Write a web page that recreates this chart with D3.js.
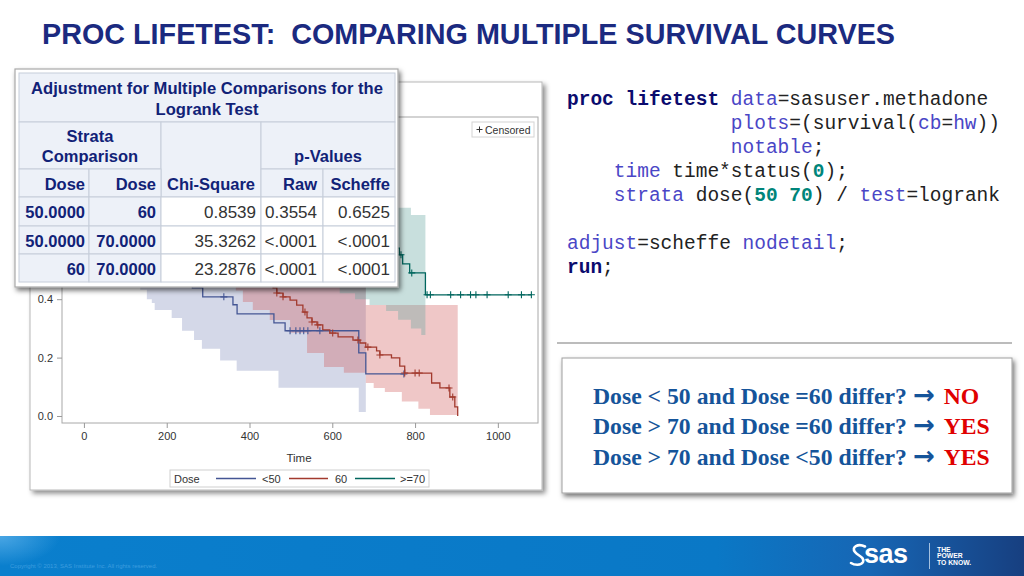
<!DOCTYPE html>
<html><head><meta charset="utf-8">
<script src="https://cdn.jsdelivr.net/npm/d3@7/dist/d3.min.js"></script>
<style>html,body{margin:0;padding:0;background:#fff;overflow:hidden}</style>
</head><body>
<svg id="s" width="1024" height="576" xmlns="http://www.w3.org/2000/svg"></svg>
<script>
// ---------------- data ----------------
const slideTitle = "PROC LIFETEST:  COMPARING MULTIPLE SURVIVAL CURVES";
const xTicks = [0, 200, 400, 600, 800, 1000];
const yTicks = [0.0, 0.2, 0.4];          // the upper ticks are covered by the table in the slide
const xLabel = "Time";
const legendTitle = "Dose";
const strataLabels = ["<50", "60", ">=70"];

// step survival estimates [time, survival]
const survLt50 = [[0,1],[14,0.97],[33,0.94],[55,0.91],[79,0.88],[101,0.84],[124,0.80],[146,0.76],[166,0.72],[184,0.68],[201,0.64],[216,0.60],[229,0.56],[241,0.52],[252,0.48],[262,0.439],[287,0.408],[360,0.381],[370,0.35],[459,0.319],[486,0.292],[664,0.216],[681,0.144]];
const surv60 = [[0,1],[21,0.98],[44,0.96],[68,0.94],[92,0.92],[115,0.90],[140,0.88],[165,0.86],[190,0.84],[212,0.81],[236,0.78],[260,0.75],[284,0.72],[307,0.69],[330,0.66],[352,0.63],[374,0.60],[395,0.57],[414,0.54],[430,0.51],[443,0.48],[452,0.46],[457,0.439],[466,0.421],[481,0.408],[498,0.397],[514,0.38],[529,0.356],[539,0.336],[551,0.322],[563,0.312],[577,0.295],[594,0.284],[614,0.271],[650,0.26],[667,0.25],[681,0.236],[707,0.223],[715,0.209],[743,0.199],[763,0.171],[775,0.147],[840,0.113],[860,0.096],[884,0.065],[896,0.031],[903,0.0]];
const surv70 = [[0,1],[28,0.985],[55,0.97],[96,0.955],[140,0.94],[185,0.925],[230,0.905],[275,0.885],[320,0.865],[365,0.845],[410,0.82],[455,0.795],[500,0.77],[545,0.745],[590,0.72],[618,0.69],[655,0.66],[690,0.63],[730,0.60],[752,0.575],[762,0.552],[770,0.521],[787,0.49],[825,0.415]];
const endTimes = [773, 903, 1081];

// censored times
const censLt50 = [72, 188, 338, 498, 512, 522, 531, 541, 570, 773];
const cens60 = [466, 481, 534, 551, 565, 601, 662, 686, 715, 775, 800, 810, 882, 891];
const cens70 = [310, 560, 766, 792, 829, 837, 886, 910, 934, 947, 974, 1025, 1057, 1081];

// Hall-Wellner bands [time, lower, upper]
const bandLt50 = [[14,0.82,1.0],[33,0.76,1.0],[55,0.71,1.0],[79,0.66,1.0],[101,0.60,1.0],[124,0.52,0.99],[136,0.432,0.98],[152,0.40,0.96],[164,0.387,0.94],[171,0.363,0.92],[212,0.336,0.88],[237,0.292,0.84],[266,0.26,0.80],[285,0.23,0.77],[329,0.19,0.72],[369,0.155,0.68],[470,0.097,0.62],[664,0.014,0.52]];
const band60 = [[21,0.88,1.0],[44,0.84,1.0],[68,0.81,1.0],[92,0.78,1.0],[115,0.75,1.0],[140,0.72,1.0],[165,0.69,1.0],[190,0.66,0.99],[212,0.63,0.97],[236,0.60,0.95],[260,0.57,0.93],[284,0.54,0.91],[307,0.51,0.88],[330,0.48,0.86],[352,0.45,0.83],[367,0.43,0.81],[384,0.39,0.78],[408,0.363,0.75],[449,0.329,0.70],[498,0.285,0.64],[539,0.216,0.59],[580,0.168,0.54],[628,0.148,0.50],[681,0.113,0.38],[700,0.096,0.38],[727,0.082,0.38],[768,0.05,0.38],[808,0.025,0.38],[836,0.003,0.38]];
const band70 = [[28,0.93,1.0],[55,0.905,1.0],[96,0.88,1.0],[140,0.855,1.0],[185,0.83,1.0],[230,0.80,0.995],[275,0.775,0.985],[320,0.745,0.975],[365,0.72,0.96],[410,0.69,0.945],[455,0.66,0.93],[500,0.63,0.91],[545,0.60,0.89],[590,0.56,0.87],[618,0.42,0.85],[655,0.40,0.83],[690,0.38,0.80],[730,0.36,0.76],[759,0.33,0.713],[790,0.30,0.688],[815,0.277,0.688]];
const bandEnds = [681, 903, 825];

// table
const tableTitle = ["Adjustment for Multiple Comparisons for the", "Logrank Test"];
const tableGroupHeads = ["Strata", "Comparison"];
const tablePHead = "p-Values";
const tableColHeads = ["Dose", "Dose", "Chi-Square", "Raw", "Scheffe"];
const tableRows = [
  ["50.0000", "60", "0.8539", "0.3554", "0.6525"],
  ["50.0000", "70.0000", "35.3262", "<.0001", "<.0001"],
  ["60", "70.0000", "23.2876", "<.0001", "<.0001"]
];

// code listing tokens [text, kind]
const codeLines = [
  [0, [["proc lifetest ","k"],["data","b"],["=sasuser.methadone","n"]]],
  [14,[["plots","b"],["=(survival(","n"],["cb","b"],["=","n"],["hw","b"],["))","n"]]],
  [14,[["notable","b"],[";","n"]]],
  [4, [["time","b"],[" time*status(","n"],["0","t"],[");","n"]]],
  [4, [["strata","b"],[" dose(","n"],["50 70","t"],[") / ","n"],["test","b"],["=logrank","n"]]],
  [0, []],
  [0, [["adjust","b"],["=scheffe ","n"],["nodetail","b"],[";","n"]]],
  [0, [["run","k"],[";","n"]]]
];

const answers = [
  ["Dose < 50 and Dose =60 differ? ", "NO"],
  ["Dose > 70 and Dose =60 differ? ", "YES"],
  ["Dose > 70 and Dose <50 differ? ", "YES"]
];
const copyright = "Copyright \u00A9 2013, SAS Institute Inc. All rights reserved.";

// ---------------- drawing ----------------
const svg = d3.select("#s");
const defs = svg.append("defs");
function shadow(id, dx, dy, sd, op) {
  const f = defs.append("filter").attr("id", id).attr("x", "-10%").attr("y", "-10%").attr("width", "125%").attr("height", "130%");
  f.append("feDropShadow").attr("dx", dx).attr("dy", dy).attr("stdDeviation", sd).attr("flood-color", "#000").attr("flood-opacity", op);
}
shadow("sh1", 3, 3, 2.5, 0.45);
shadow("sh2", 2, 3, 2.5, 0.55);

function fitWidth(sel, target) {
  const fs = parseFloat(sel.style("font-size"));
  const w = sel.node().getComputedTextLength();
  sel.style("font-size", (fs * target / w) + "px");
}

// slide title
const tt = svg.append("text").attr("x", 42).attr("y", 44).text(slideTitle)
  .style("font-family", "Liberation Sans, Arial, sans-serif").style("font-weight", "bold")
  .style("font-size", "25px").style("fill", "#1b2a80").style("white-space", "pre");
fitWidth(tt, 853);

// ---- chart frame ----
const chart = svg.append("g");
chart.append("rect").attr("x", 30).attr("y", 82).attr("width", 512).attr("height", 408)
  .attr("fill", "#fff").attr("stroke", "#b8b8b8").attr("stroke-width", 1).attr("filter", "url(#sh1)");

const x = d3.scaleLinear().domain([-53, 1097]).range([62, 538]);
const y = d3.scaleLinear().domain([-0.024, 1.024]).range([423, 117]);

defs.append("clipPath").attr("id", "plotclip").append("rect").attr("x", 62).attr("y", 117).attr("width", 476).attr("height", 306);
chart.append("rect").attr("x", 62).attr("y", 117).attr("width", 476).attr("height", 306).attr("fill", "#fff");

const colorsFill = ["#6F7EB3", "#D05B5B", "#66A5A0"];
const colorsLine = ["#445694", "#A23A2E", "#01665E"];
const fillOp = [0.3, 0.34, 0.36];
const bands = [bandLt50, band60, band70];
const survs = [survLt50, surv60, surv70];
const cens = [censLt50, cens60, cens70];

const pg = chart.append("g").attr("clip-path", "url(#plotclip)");
const area = d3.area().x(d => x(d[0])).y0(d => y(d[1])).y1(d => y(d[2])).curve(d3.curveStepAfter);
bands.forEach((b, i) => {
  const last = b[b.length - 1];
  const data = b.concat([[bandEnds[i], last[1], last[2]]]);
  pg.append("path").attr("d", area(data)).attr("fill", colorsFill[i]).attr("fill-opacity", fillOp[i]);
});
const line = d3.line().x(d => x(d[0])).y(d => y(d[1])).curve(d3.curveStepAfter);
function sAt(s, t) { let v = s[0][1]; for (const p of s) { if (p[0] <= t) v = p[1]; } return v; }
survs.forEach((s, i) => {
  const last = s[s.length - 1];
  const data = s.concat([[endTimes[i], last[1]]]);
  pg.append("path").attr("d", line(data)).attr("fill", "none").attr("stroke", colorsLine[i]).attr("stroke-width", 1.3);
});
cens.forEach((c, i) => {
  c.forEach(t => {
    const cx = x(t), cy = y(sAt(survs[i], t));
    pg.append("path").attr("d", `M${cx - 3.5},${cy}H${cx + 3.5}M${cx},${cy - 3.5}V${cy + 3.5}`)
      .attr("stroke", colorsLine[i]).attr("stroke-width", 1.1).attr("fill", "none");
  });
});

// wall border
chart.append("rect").attr("x", 62).attr("y", 117).attr("width", 476).attr("height", 306)
  .attr("fill", "none").attr("stroke", "#a8a8a8").attr("stroke-width", 1);

// axes
const axFont = "Liberation Sans, Arial, sans-serif";
const xa = chart.append("g").attr("transform", "translate(0,423)")
  .call(d3.axisBottom(x).tickValues(xTicks).tickSize(5).tickPadding(4).tickFormat(d3.format("d")));
const ya = chart.append("g").attr("transform", "translate(62,0)")
  .call(d3.axisLeft(y).tickValues(yTicks).tickSize(5).tickPadding(4).tickFormat(d3.format(".1f")));
[xa, ya].forEach(a => {
  a.select(".domain").remove();
  a.selectAll("line").attr("stroke", "#999");
  a.selectAll("text").style("font-family", axFont).style("font-size", "11px").style("fill", "#333");
});
chart.append("text").attr("x", 299).attr("y", 462).attr("text-anchor", "middle").text(xLabel)
  .style("font-family", axFont).style("font-size", "11.5px").style("fill", "#333");

// legend (bottom)
const lg = chart.append("g");
lg.append("rect").attr("x", 170).attr("y", 470).attr("width", 259).attr("height", 17).attr("fill", "#fff").attr("stroke", "#cfcfcf");
lg.append("text").attr("x", 174).attr("y", 482.5).text(legendTitle).style("font-family", axFont).style("font-size", "11px").style("fill", "#333");
const legLines = [[216, 256, 262], [289, 328, 335], [355, 395, 400]];
strataLabels.forEach((lab, i) => {
  lg.append("line").attr("x1", legLines[i][0]).attr("x2", legLines[i][1]).attr("y1", 478.5).attr("y2", 478.5)
    .attr("stroke", colorsLine[i]).attr("stroke-width", 1.3);
  lg.append("text").attr("x", legLines[i][2]).attr("y", 482.5).text(lab).style("font-family", axFont).style("font-size", "11px").style("fill", "#333");
});
// censored legend
const cl = chart.append("g");
cl.append("rect").attr("x", 472).attr("y", 122).attr("width", 62).attr("height", 15).attr("fill", "#fff").attr("stroke", "#d4d4d4");
cl.append("path").attr("d", "M476.5,129.5H482.5M479.5,126.5V132.5").attr("stroke", "#333").attr("stroke-width", 1);
cl.append("text").attr("x", 485).attr("y", 133.5).text("Censored").style("font-family", axFont).style("font-size", "10.5px").style("fill", "#333");

// ---- table ----
const tg = svg.append("g");
tg.append("rect").attr("x", 15).attr("y", 69).attr("width", 383).attr("height", 218)
  .attr("fill", "#fff").attr("stroke", "#a9a9a9").attr("stroke-width", 1.2).attr("filter", "url(#sh2)");
const colX = [19, 89, 161, 261, 323, 395];
const rowY = [73, 122, 169, 197, 226, 254, 282];
const hdrBg = "#edf1f8", gridC = "#c6cdda", hdrTxt = "#112277";
const tFont = "Liberation Sans, Arial, sans-serif";
function cell(c0, c1, r0, r1, bg) {
  tg.append("rect").attr("x", colX[c0]).attr("y", rowY[r0]).attr("width", colX[c1] - colX[c0]).attr("height", rowY[r1] - rowY[r0])
    .attr("fill", bg).attr("stroke", gridC).attr("stroke-width", 1);
}
function ttext(str, xx, yy, anchor, bold, color, fs) {
  return tg.append("text").attr("x", xx).attr("y", yy).attr("text-anchor", anchor).text(str)
    .style("font-family", tFont).style("font-size", (fs || 16) + "px").style("font-weight", bold ? "bold" : "normal").style("fill", color);
}
cell(0, 5, 0, 1, hdrBg);
cell(0, 2, 1, 2, hdrBg);
cell(2, 3, 1, 3, hdrBg);
cell(3, 5, 1, 2, hdrBg);
[0, 1, 3, 4].forEach(c => cell(c, c + 1, 2, 3, hdrBg));
tableRows.forEach((r, ri) => {
  for (let c = 0; c < 5; c++) cell(c, c + 1, 3 + ri, 4 + ri, c < 2 ? hdrBg : "#fff");
});
const t1 = ttext(tableTitle[0], 207, 94, "middle", true, hdrTxt);
fitWidth(t1, 352);
const tfs = t1.style("font-size");
ttext(tableTitle[1], 207, 115, "middle", true, hdrTxt).style("font-size", tfs);
ttext(tableGroupHeads[0], 90, 142, "middle", true, hdrTxt, 16.5);
ttext(tableGroupHeads[1], 90, 162, "middle", true, hdrTxt, 16.5);
ttext(tablePHead, 328, 162, "middle", true, hdrTxt, 16.5);
const hdrRight = [85, 156, null, 317, 390];
tableColHeads.forEach((h, c) => {
  if (c === 2) ttext(h, 211, 190, "middle", true, hdrTxt, 16.5);
  else ttext(h, hdrRight[c], 190, "end", true, hdrTxt, 16.5);
});
const dataRight = [85, 156, 256, 317, 390];
const rowBase = [218, 246.5, 274.5];
tableRows.forEach((r, ri) => {
  r.forEach((v, c) => {
    ttext(v, dataRight[c], rowBase[ri], "end", c < 2, c < 2 ? hdrTxt : "#333", c < 2 ? 16.5 : 17);
  });
});

// ---- code listing ----
const codeColors = { k: "#0b0b6e", b: "#4a46c6", n: "#222", t: "#00857a" };
const codeFs = 19.5, charW = codeFs * 0.6;
codeLines.forEach((ln, i) => {
  const [indent, toks] = ln;
  if (!toks.length) return;
  const tx = svg.append("text").attr("x", 567 + indent * charW).attr("y", 105 + i * 24)
    .style("font-family", "Liberation Mono, Courier New, monospace").style("font-size", codeFs + "px").style("white-space", "pre");
  toks.forEach(([s, k]) => {
    tx.append("tspan").text(s).style("fill", codeColors[k]).style("font-weight", (k === "k" || k === "t") ? "bold" : "normal");
  });
});

// separator line
svg.append("line").attr("x1", 557).attr("x2", 1012).attr("y1", 343).attr("y2", 343).attr("stroke", "#a6a6a6").attr("stroke-width", 1.5);

// answer box
svg.append("rect").attr("x", 562).attr("y", 358).attr("width", 450).attr("height", 135)
  .attr("fill", "#fff").attr("stroke", "#a0a0a0").attr("stroke-width", 1).attr("filter", "url(#sh2)");
const ansBase = [404, 434, 465];
const ansTexts = [];
answers.forEach((a, i) => {
  const tx = svg.append("text").attr("x", 593).attr("y", ansBase[i])
    .style("font-family", "Liberation Serif, Times New Roman, serif").style("font-weight", "bold").style("font-size", "22px").style("white-space", "pre");
  tx.append("tspan").text(a[0]).style("fill", "#15549a");
  tx.append("tspan").text("\u2192 ").style("fill", "#15549a").style("font-family", "DejaVu Sans, sans-serif").style("font-size", "1.1em");
  tx.append("tspan").text(a[1]).style("fill", "#e00000");
  ansTexts.push(tx);
});
fitWidth(ansTexts[1], 397);
const ansFs = ansTexts[1].style("font-size");
ansTexts.forEach(t => t.style("font-size", ansFs));

// ---- bottom bar ----
const gr = defs.append("linearGradient").attr("id", "bar").attr("x1", "0").attr("x2", "1").attr("y1", "0").attr("y2", "0");
gr.append("stop").attr("offset", "0").attr("stop-color", "#0a7fcd");
gr.append("stop").attr("offset", "0.7").attr("stop-color", "#0a78c6");
gr.append("stop").attr("offset", "0.85").attr("stop-color", "#1766b4");
gr.append("stop").attr("offset", "1").attr("stop-color", "#173f80");
svg.append("rect").attr("x", 0).attr("y", 536).attr("width", 1024).attr("height", 40).attr("fill", "url(#bar)");
const hl = defs.append("radialGradient").attr("id", "hl").attr("cx", "0").attr("cy", "0").attr("r", "1");
hl.append("stop").attr("offset", "0").attr("stop-color", "#5ab0ea").attr("stop-opacity", 0.8);
hl.append("stop").attr("offset", "1").attr("stop-color", "#5ab0ea").attr("stop-opacity", 0);
svg.append("rect").attr("x", 0).attr("y", 536).attr("width", 60).attr("height", 30).attr("fill", "url(#hl)");
svg.append("text").attr("x", 10).attr("y", 568).text(copyright)
  .style("font-family", "Liberation Sans, Arial, sans-serif").style("font-size", "6px").style("fill", "#3d9ddf");
// logo
svg.append("path").attr("d", "M865,546.5 C858,543 851,547 855,552 C858,556 865,557 863,562 C861,566 854,565 851,563")
  .attr("fill", "none").attr("stroke", "#fff").attr("stroke-width", 2.6).attr("stroke-linecap", "round");
svg.append("text").attr("x", 864).attr("y", 563).text("sas")
  .style("font-family", "Liberation Sans, Arial, sans-serif").style("font-weight", "bold").style("font-size", "27px")
  .style("letter-spacing", "-0.5px").style("fill", "#fff");
svg.append("line").attr("x1", 929.5).attr("x2", 929.5).attr("y1", 543).attr("y2", 569).attr("stroke", "#c8dcf0").attr("stroke-width", 0.8);
["THE", "POWER", "TO KNOW."].forEach((s, i) => {
  svg.append("text").attr("x", 937).attr("y", 551.5 + i * 6.5).text(s)
    .style("font-family", "Liberation Sans, Arial, sans-serif").style("font-weight", "bold").style("font-size", "6.8px").style("fill", "#fff");
});
</script>
</body></html>
